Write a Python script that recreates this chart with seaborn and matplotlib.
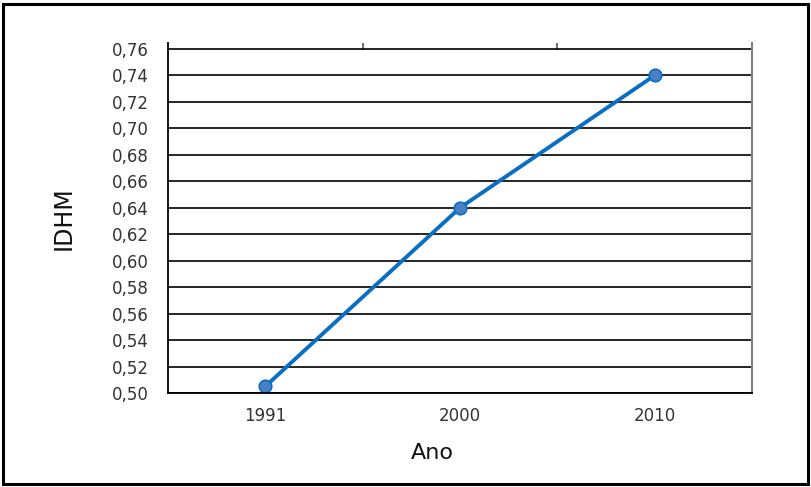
import matplotlib
matplotlib.use("Agg")
import matplotlib.pyplot as plt
import seaborn as sns
import pandas as pd
from matplotlib.patches import Rectangle
from matplotlib.ticker import FixedLocator, FixedFormatter

anos = ["1991", "2000", "2010"]
idhm = [0.505, 0.640, 0.740]
yticks = [0.50, 0.52, 0.54, 0.56, 0.58, 0.60, 0.62, 0.64, 0.66, 0.68, 0.70, 0.72, 0.74, 0.76]
ytick_labels = ["0,50", "0,52", "0,54", "0,56", "0,58", "0,60", "0,62", "0,64",
                "0,66", "0,68", "0,70", "0,72", "0,74", "0,76"]

sns.set_theme(style="white")
plt.rcParams['font.family'] = ['DejaVu Sans']

df = pd.DataFrame({"Ano": anos, "IDHM": idhm})

fig = plt.figure(figsize=(8.12, 4.87), dpi=100)
ax = fig.add_axes([168/812, (487-393)/487, (752-168)/812, (393-43)/487])

sns.lineplot(data=df, x="Ano", y="IDHM", ax=ax, color="#0a6fc2", linewidth=2.8,
             marker="o", markersize=9, markerfacecolor="#4a7fc4",
             markeredgecolor="#0a6fc2", markeredgewidth=1.2, sort=False)

ax.set_xlim(-0.5, 2.5)
ax.set_ylim(0.50, 0.7645)
ax.yaxis.set_major_locator(FixedLocator(yticks))
ax.yaxis.set_major_formatter(FixedFormatter(ytick_labels))
ax.grid(axis="y", color="black", linewidth=1.2)
ax.grid(axis="x", visible=False)
ax.set_axisbelow(True)

for s in ["left", "bottom"]:
    ax.spines[s].set_color("black")
    ax.spines[s].set_linewidth(1.3)
ax.spines["right"].set_color("#808080")
ax.spines["right"].set_linewidth(1.5)
ax.spines["top"].set_visible(False)

ax.xaxis.set_minor_locator(FixedLocator([0.5, 1.5]))
ax.tick_params(axis="x", which="minor", top=True, bottom=False, direction="in",
               length=5, width=1.2, color="#555555")
ax.tick_params(axis="x", which="major", length=0, pad=10, labelsize=12, labelcolor="#333333")
ax.tick_params(axis="y", length=0, pad=14, labelsize=12, labelcolor="#333333")

ax.set_xlabel("Ano", fontsize=16, color="#111111")
ax.set_ylabel("IDHM", fontsize=17, color="#111111")
ax.xaxis.set_label_coords((432-168)/584, (393-453)/350)
ax.yaxis.set_label_coords((64-168)/584, 0.5)
ax.xaxis.label.set_va("center")
ax.yaxis.label.set_va("center")

fig.patches.append(Rectangle((3/812, 3/487), 1 - 7/812, 1 - 7/487, transform=fig.transFigure,
                             fill=False, edgecolor="black", linewidth=2.2))

fig.savefig("out.png", dpi=100)
